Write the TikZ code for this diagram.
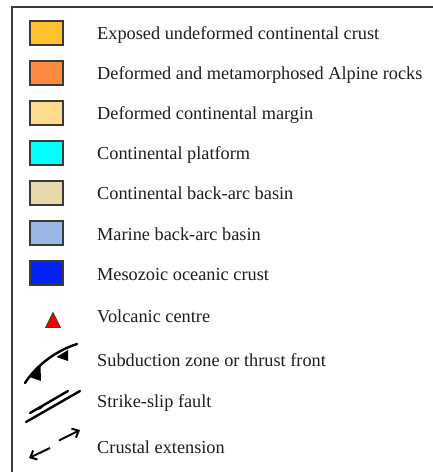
\documentclass[tikz,border=0pt]{standalone}
\usepackage{fontspec}
\setmainfont{Liberation Serif}
\usetikzlibrary{arrows.meta}
\definecolor{txt}{HTML}{1E1E1E}
\definecolor{frm}{HTML}{3A3A3A}
\definecolor{cA}{HTML}{FDC22C}
\definecolor{cB}{HTML}{FD8A40}
\definecolor{cC}{HTML}{FEDC8E}
\definecolor{cD}{HTML}{00FFFF}
\definecolor{cE}{HTML}{E8D6AE}
\definecolor{cF}{HTML}{99B8E4}
\definecolor{cG}{HTML}{0022F5}
\begin{document}
\begin{tikzpicture}[x=1pt,y=-1pt,
  swatch/.style={draw=frm,line width=1.3pt,minimum width=33pt,minimum height=24pt,inner sep=0pt},
  lbl/.style={anchor=base west,inner sep=0pt,text=txt,font=\fontsize{18.3}{22}\selectfont},
  sym/.style={line width=2.4pt,black,line cap=round}]
\useasboundingbox (0,0) rectangle (432,472);
\fill[white] (0,0) rectangle (432,472);
% frame
\draw[frm,line width=1.5pt] (12,480) -- (12,7) -- (440,7);
% swatches
\node[swatch,fill=cA] (s1) at (46.5,33) {};
\node[swatch,fill=cB] (s2) at (46.5,73) {};
\node[swatch,fill=cC] (s3) at (46.5,113) {};
\node[swatch,fill=cD] (s4) at (46.5,153) {};
\node[swatch,fill=cE] (s5) at (46.5,193) {};
\node[swatch,fill=cF] (s6) at (46.5,233) {};
\node[swatch,fill=cG] (s7) at (46.5,273) {};
% labels
\node[lbl] (t1) at (97,39.5) {Exposed undeformed continental crust};
\node[lbl] (t2) at (97,79.5) {Deformed and metamorphosed Alpine rocks};
\node[lbl] (t3) at (97,119.5) {Deformed continental margin};
\node[lbl] (t4) at (97,159.5) {Continental platform};
\node[lbl] (t5) at (97,199.5) {Continental back-arc basin};
\node[lbl] (t6) at (97,240) {Marine back-arc basin};
\node[lbl] (t7) at (97,280) {Mesozoic oceanic crust};
\node[lbl] (t8) at (97,322.5) {Volcanic centre};
\node[lbl] (t9) at (97,366.5) {Subduction zone or thrust front};
\node[lbl] (t10) at (97,407) {Strike-slip fault};
\node[lbl] (t11) at (97,453) {Crustal extension};
% volcanic centre
\draw[fill=red!92!black,draw=black!75,line width=0.8pt,line join=miter] (45.5,327.5) -- (60.5,327.5) -- (53,312.5) -- cycle;
% subduction zone
\draw[sym] (25,383) .. controls (34,369) and (52,352) .. (77,344);
\fill[black] (29.5,377) -- (40.5,366) -- (41,381) -- cycle;
\fill[black] (56.5,357) -- (68,350) -- (68,361) -- cycle;
% strike-slip fault
\draw[sym] (26,422) -- (80,391);
\draw[sym] (30,413) -- (68,391);
\fill[black] (33,411.5) -- (46,403.5) -- (41,409) -- cycle;
% crustal extension
\draw[black,line width=2pt,-{Straight Barb[length=5.5pt,width=10pt]}] (50,448) -- (29,458);
\draw[black,line width=2pt,-{Straight Barb[length=5.5pt,width=10pt]}] (59,440.5) -- (80,430);
\end{tikzpicture}
\end{document}
